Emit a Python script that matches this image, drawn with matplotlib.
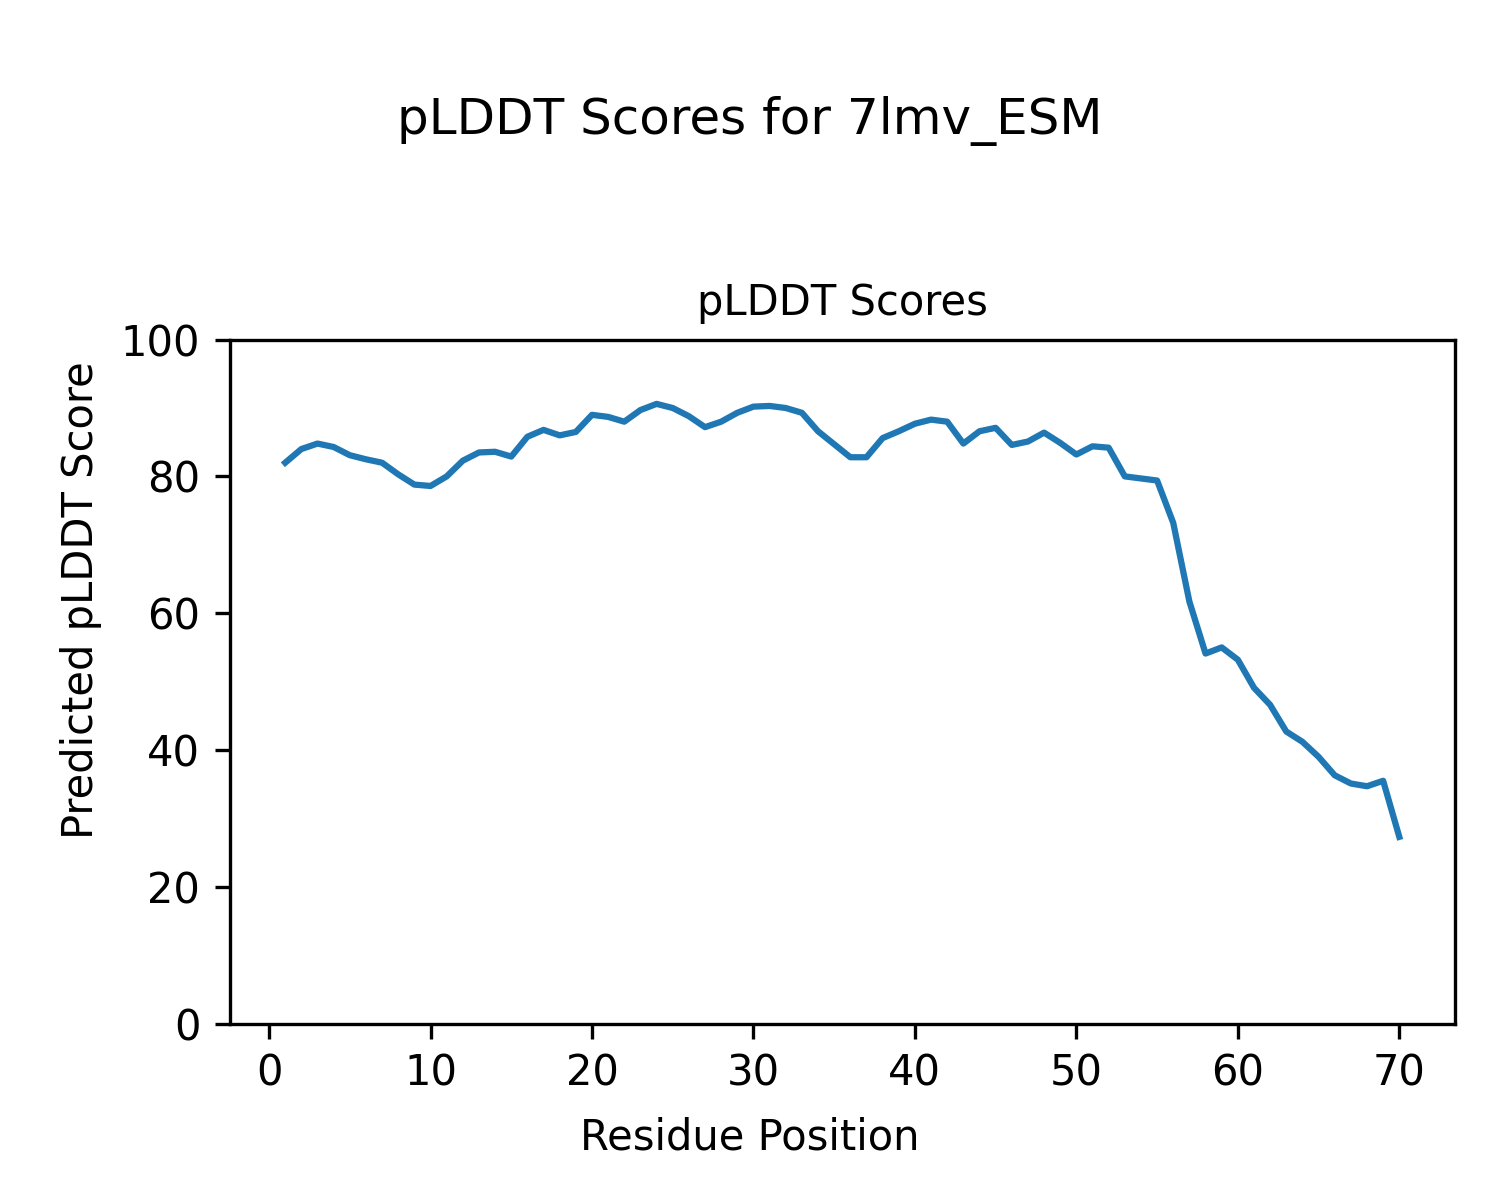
import matplotlib
matplotlib.use("Agg")
import matplotlib.pyplot as plt

# residue positions and pLDDT values
residues = list(range(1, 71))
plddt = [82.0, 84.0, 84.8, 84.3, 83.1, 82.5, 82.0, 80.3, 78.8, 78.6,
         80.0, 82.3, 83.5, 83.6, 82.9, 85.8, 86.8, 86.0, 86.5, 89.0,
         88.7, 88.0, 89.7, 90.6, 90.0, 88.8, 87.2, 88.0, 89.3, 90.2,
         90.3, 90.0, 89.3, 86.6, 84.7, 82.8, 82.8, 85.6, 86.6, 87.7,
         88.3, 88.0, 84.8, 86.6, 87.1, 84.6, 85.1, 86.4, 84.9, 83.2,
         84.4, 84.2, 80.0, 79.7, 79.4, 73.2, 61.7, 54.1, 55.0, 53.2,
         49.1, 46.6, 42.7, 41.2, 39.0, 36.3, 35.1, 34.7, 35.5, 27.3]

fig, ax = plt.subplots(figsize=(5, 4), dpi=300)
ax.plot(residues, plddt)
ax.set_ylim(0, 100)
ax.set_title("pLDDT Scores", fontsize=10)
fig.supxlabel("Residue Position", y=0.035, fontsize=10)
fig.supylabel("Predicted pLDDT Score", x=0.04, fontsize=10)
fig.suptitle("pLDDT Scores for 7lmv_ESM", y=0.92)
plt.subplots_adjust(left=0.153, right=0.97, top=0.717, bottom=0.147)
plt.savefig("out.png")
